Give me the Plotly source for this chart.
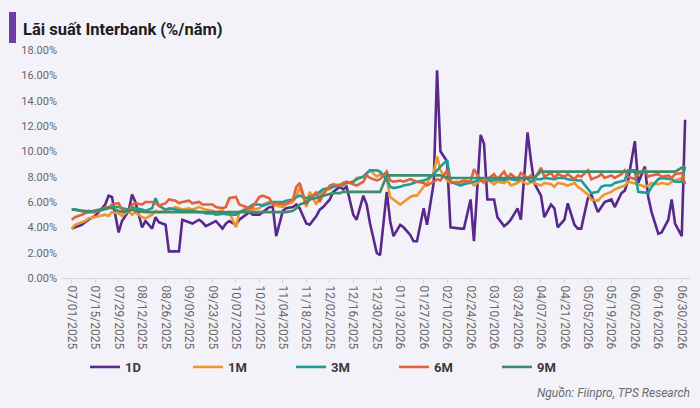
import pandas as pd
import plotly.graph_objects as go

# Dates: every second business day, 07/01/2025 .. 07/02/2026
dates = pd.bdate_range("2025-07-01", "2026-07-03")[::2]

series_names = ["1D", "1M", "3M", "6M", "9M"]

rate_1d = [
    3.9, 4.0, 4.2, 4.4, 4.6,
    4.9, 5.2, 5.8, 6.5, 6.4,
    3.6, 4.5, 5.3, 6.6, 6.0,
    4.0, 4.5, 3.9, 4.8, 4.4,
    4.2, 2.1, 2.1, 2.1, 4.6,
    4.4, 4.3, 4.6, 4.4, 4.1,
    4.4, 4.5, 3.9, 4.3, 4.5,
    4.2, 4.6, 5.0, 5.2, 5.0,
    5.0, 5.2, 5.6, 5.6, 3.3,
    5.3, 5.5, 5.6, 5.8, 5.5,
    4.3, 4.2, 4.9, 5.4, 5.6,
    6.2, 6.8, 7.2, 7.0, 7.2,
    5.0, 4.6, 6.5, 5.8, 4.3,
    2.0, 1.8, 6.8, 4.5, 3.3,
    4.2, 4.0, 3.4, 2.9, 2.9,
    5.5, 4.2, 7.5, 16.4, 10.0,
    9.2, 4.0, 3.9, 3.9, 3.9,
    6.2, 2.9, 11.3, 10.6, 6.2,
    6.2, 4.8, 4.1, 4.3, 4.6,
    5.5, 4.6, 11.5, 9.3, 7.5,
    6.5, 4.8, 5.8, 5.5, 4.0,
    4.6, 5.9, 4.2, 3.9, 3.9,
    6.3, 6.6, 5.2, 5.6, 6.0,
    6.2, 5.6, 6.7, 6.9, 7.7,
    10.8, 7.5, 8.8, 6.4, 5.2,
    3.5, 3.6, 4.6, 6.2, 4.3,
    3.3, 12.5,
]

rate_1m = [
    3.9, 4.2, 4.4, 4.5, 4.7,
    4.8, 4.9, 5.0, 4.9, 5.2,
    5.1, 4.9, 5.3, 5.0, 5.2,
    4.8, 4.7, 5.0, 5.3, 5.2,
    5.3, 5.4, 5.6, 5.5, 5.4,
    5.5, 5.4, 5.6, 5.5, 5.4,
    5.3, 5.2, 5.3, 5.0, 5.2,
    4.0, 5.2, 5.5, 5.3, 5.4,
    5.5, 5.8, 6.0, 5.8, 5.7,
    5.6, 5.8, 6.0, 6.4, 7.2,
    5.6, 6.8, 5.8, 6.5, 6.9,
    7.0, 7.2, 7.4, 7.3, 7.5,
    7.6, 7.9, 8.0, 8.2, 8.5,
    8.0, 8.2, 7.8, 6.4, 6.2,
    5.8, 6.0, 6.4, 6.5, 6.5,
    7.2, 7.5, 8.3, 9.6, 8.5,
    7.7, 7.5, 7.6, 7.4, 7.5,
    7.6, 7.3, 7.7, 7.5, 7.8,
    7.4, 7.6, 7.5, 7.7, 7.3,
    7.5, 7.7, 7.4, 7.6, 7.5,
    7.3, 7.5, 7.4, 7.2, 7.5,
    7.4, 7.3, 7.5, 7.2, 7.0,
    6.6, 6.2, 6.1, 6.4, 6.6,
    6.8, 7.0, 7.2, 7.3, 7.6,
    7.5, 7.4, 7.2, 7.3, 7.5,
    7.4, 7.5, 7.4, 7.6, 7.7,
    7.9, 8.0,
]

rate_3m = [
    5.4, 5.4, 5.3, 5.2, 5.3,
    5.2, 5.3, 5.4, 5.5, 5.6,
    5.6, 5.5, 5.4, 5.6, 5.5,
    5.4, 5.3, 5.5, 6.3, 5.7,
    5.4, 5.5, 5.4, 5.4, 5.3,
    5.3, 5.3, 5.2, 5.2, 5.1,
    5.1, 5.0, 5.1, 5.1, 5.0,
    5.0, 5.2, 5.4, 5.6, 5.8,
    5.8, 5.7, 5.9, 6.0, 6.0,
    6.0, 6.1, 6.2, 6.4, 6.5,
    6.3, 6.4, 6.6, 6.8, 7.0,
    7.1, 7.2, 7.3, 7.4, 7.5,
    7.6, 7.8, 8.0, 8.3, 8.5,
    8.5, 8.4, 7.8, 7.2, 7.1,
    7.2, 7.3, 7.4, 7.5, 7.6,
    7.7, 7.8, 8.2, 8.5, 8.8,
    9.3, 7.6, 7.4, 7.3, 7.4,
    7.5, 7.6, 7.8, 7.6, 7.7,
    7.7, 7.8, 7.7, 7.9, 7.8,
    7.7, 7.9, 7.8, 7.6, 7.8,
    7.8, 7.9, 7.8, 7.8, 7.9,
    7.9, 7.8, 7.7, 7.7, 7.7,
    7.0, 6.7, 6.8, 7.2, 7.3,
    7.3, 7.5, 7.6, 7.7, 8.5,
    8.5, 6.8, 6.7, 6.7, 7.2,
    7.8, 7.9, 7.8, 7.8, 7.6,
    7.6, 8.8,
]

rate_6m = [
    4.6, 4.8, 5.0, 5.1, 5.2,
    5.2, 5.3, 5.6, 5.5, 5.8,
    5.9, 5.4, 5.3, 5.8, 5.9,
    5.8, 6.0, 6.0, 5.9, 5.7,
    5.9, 6.2, 6.1, 5.9, 6.0,
    6.1, 5.9, 6.0, 5.8, 5.8,
    5.8, 5.6, 5.5, 5.6, 6.3,
    6.4, 5.8, 5.6, 5.5, 5.6,
    6.4, 6.5, 6.3, 5.8, 5.9,
    5.8, 5.9, 6.2, 7.2, 7.5,
    5.8, 6.2, 6.8, 6.0, 6.6,
    7.3, 7.4, 7.3, 7.5, 7.6,
    7.4, 7.3, 7.6, 8.1, 7.9,
    7.7, 7.8, 8.4, 7.7, 7.6,
    7.7, 7.6, 7.8, 7.7, 7.6,
    7.5, 7.3, 7.6, 7.8, 7.7,
    8.5, 7.6, 7.5, 7.6, 7.7,
    7.6, 8.6, 7.7, 7.6, 7.8,
    8.2, 7.8, 8.4, 7.9, 8.2,
    7.8, 8.3, 7.9, 8.1, 7.8,
    8.7, 8.0, 8.3, 7.9, 8.2,
    8.0, 8.2, 7.8, 8.1, 8.0,
    8.5, 7.8, 8.0, 8.2, 7.9,
    8.1, 7.9, 8.2, 8.5, 8.0,
    7.8, 8.2, 8.5, 8.0, 8.1,
    8.2, 8.0, 8.1, 7.9, 8.2,
    8.3, 7.4,
]

rate_9m = [
    5.4, 5.4, 5.3, 5.3, 5.2,
    5.3, 5.4, 5.5, 5.6, 5.5,
    5.3, 5.2, 5.3, 5.4, 5.3,
    5.2, 5.2, 5.2, 5.2, 5.2,
    5.2, 5.2, 5.2, 5.2, 5.2,
    5.2, 5.2, 5.2, 5.2, 5.2,
    5.2, 5.2, 5.2, 5.2, 5.2,
    5.2, 5.2, 5.2, 5.2, 5.2,
    5.2, 5.2, 5.2, 5.2, 5.2,
    5.2, 5.2, 5.3, 5.5, 5.8,
    6.0, 6.2, 6.3, 6.4, 6.5,
    6.6, 6.7, 6.7, 6.8, 6.8,
    6.8, 6.8, 6.8, 6.8, 6.8,
    6.8, 6.8, 8.1, 8.1, 8.1,
    8.1, 8.1, 8.1, 8.1, 8.1,
    8.1, 8.1, 8.1, 8.1, 8.1,
    7.9, 7.9, 7.9, 7.9, 7.9,
    7.9, 7.9, 7.9, 7.9, 7.9,
    7.9, 7.9, 7.9, 7.9, 7.9,
    7.9, 7.9, 7.9, 7.9, 7.9,
    8.4, 8.4, 8.4, 8.4, 8.4,
    8.4, 8.4, 8.4, 8.4, 8.4,
    8.4, 8.4, 8.4, 8.4, 8.4,
    8.4, 8.4, 8.4, 8.4, 8.4,
    8.4, 8.4, 8.4, 8.4, 8.4,
    8.4, 8.4, 8.4, 8.4, 8.4,
    8.7, 8.8,
]

y_ticks = [0, 2, 4, 6, 8, 10, 12, 14, 16, 18]

colors = ["#58298a", "#f0952c", "#1b9d98", "#e0633a", "#3e8c6c"]
all_series = [rate_1d, rate_1m, rate_3m, rate_6m, rate_9m]

BG = "#f4f2f9"
W, H = 700, 408
ML, MR, MT, MB = 62, 10, 50, 130
PW, PH = W - ML - MR, H - MT - MB


def px_x(px):
    return (px - ML) / PW


def px_y(py):
    return (H - MB - py) / PH


fig = go.Figure()
for name, vals, col in zip(series_names, all_series, colors):
    fig.add_trace(go.Scatter(
        x=dates, y=vals, name=name, mode="lines",
        line=dict(color=col, width=2.6),
    ))

fig.update_layout(
    width=W, height=H,
    margin=dict(l=ML, r=MR, t=MT, b=MB),
    paper_bgcolor=BG, plot_bgcolor=BG,
    showlegend=True,
    legend=dict(
        orientation="h", x=px_x(85), y=px_y(367), xanchor="left", yanchor="middle",
        entrywidth=58, entrywidthmode="pixels",
        font=dict(family="Roboto", size=13, color="#3a3a3a", weight="bold"),
        bgcolor="rgba(0,0,0,0)",
    ),
    xaxis=dict(
        type="date",
        range=["2025-06-25 05:00", "2026-07-04 22:00"],
        tick0="2025-07-01", dtick=14 * 86400000,
        tickformat="%m/%d/%Y", tickangle=90,
        tickfont=dict(family="Roboto", size=12, color="#666666"),
        showgrid=False, zeroline=False,
        showline=True, linecolor="#d6d6d6", linewidth=1,
        ticks="outside", ticklen=4, tickcolor="#d6d6d6",
    ),
    yaxis=dict(
        range=[0, 18], tickvals=y_ticks,
        ticktext=[f"{v:.2f}%" for v in y_ticks],
        tickfont=dict(family="Roboto", size=11, color="#666666"),
        showgrid=False, zeroline=False, showline=False,
        ticks="", ticklabelstandoff=4,
    ),
)

fig.add_shape(
    type="rect", xref="paper", yref="paper",
    x0=px_x(9), x1=px_x(16), y0=px_y(43), y1=px_y(12),
    fillcolor="#6c3ea3", line=dict(width=0),
)
fig.add_annotation(
    text="<b>Lãi suất Interbank (%/năm)</b>", xref="paper", yref="paper",
    x=px_x(21), y=px_y(30), xanchor="left", yanchor="middle", showarrow=False,
    font=dict(family="Roboto", size=16.5, color="#1c1c1c"),
)
fig.add_annotation(
    text="<i>Nguồn: Fiinpro, TPS Research</i>", xref="paper", yref="paper",
    x=px_x(692), y=px_y(393), xanchor="right", yanchor="middle", showarrow=False,
    font=dict(family="Roboto", size=12, color="#6a6a6a"),
)

fig.write_html("out.html")
